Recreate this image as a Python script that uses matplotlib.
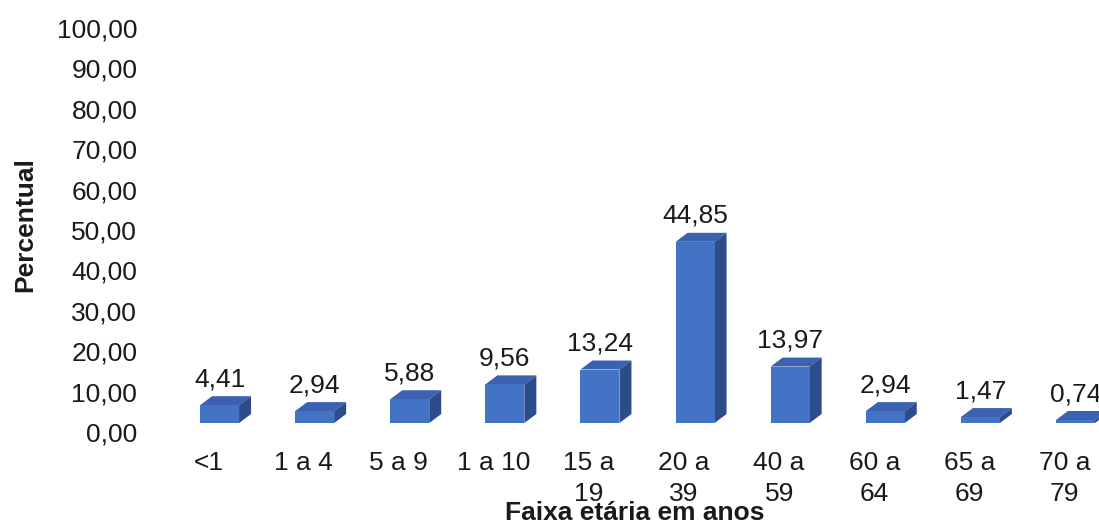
import matplotlib
matplotlib.use("Agg")
import matplotlib.pyplot as plt
from matplotlib.patches import Rectangle, Polygon
from matplotlib.transforms import ScaledTranslation

categories = ["<1", "1 a 4", "5 a 9", "1 a 10", "15 a\n19", "20 a\n39",
              "40 a\n59", "60 a\n64", "65 a\n69", "70 a\n79"]
values = [4.41, 2.94, 5.88, 9.56, 13.24, 44.85, 13.97, 2.94, 1.47, 0.74]
value_labels = ["4,41", "2,94", "5,88", "9,56", "13,24", "44,85", "13,97",
                "2,94", "1,47", "0,74"]
yticks = [0, 10, 20, 30, 40, 50, 60, 70, 80, 90, 100]
ytick_labels = ["0,00", "10,00", "20,00", "30,00", "40,00", "50,00",
                "60,00", "70,00", "80,00", "90,00", "100,00"]

FONT = "Liberation Sans"
FS = 19
TXT = "#1a1a1a"
front_c = "#4472C4"
top_c = "#3A62B0"
side_c = "#2D4C8A"

W, H = 1099, 525
fig = plt.figure(figsize=(W / 100, H / 100), dpi=100)
left_px, right_px = 172, 1099
bot_px, top_px = 432, 28
ax = fig.add_axes([left_px / W, (H - bot_px) / H, (right_px - left_px) / W,
                   (bot_px - top_px) / H])
spacing = 95.1
ax.set_xlim(-0.5, -0.5 + (right_px - left_px) / spacing)
ax.set_ylim(0, 100)
for s in ax.spines.values():
    s.set_visible(False)

px_per_y = (bot_px - top_px) / 100.0
bw = 39 / spacing
dx = 12 / spacing
dy = 9 / px_per_y
lift = ax.transData + ScaledTranslation(0, 9 / 100, fig.dpi_scale_trans)

for i, (v, lab) in enumerate(zip(values, value_labels)):
    x0, x1 = i - bw / 2, i + bw / 2
    ax.add_patch(Polygon([(x0, v), (x1, v), (x1 + dx, v + dy), (x0 + dx, v + dy)],
                         closed=True, facecolor=top_c, edgecolor="none",
                         transform=lift))
    ax.add_patch(Polygon([(x1, 0), (x1 + dx, dy), (x1 + dx, v + dy), (x1, v)],
                         closed=True, facecolor=side_c, edgecolor="none",
                         transform=lift))
    ax.add_patch(Rectangle((x0, 0), bw, v, facecolor=front_c, edgecolor="none",
                           transform=lift))
    ax.annotate(lab, xy=(i, v), xycoords=lift, xytext=(0, 10),
                textcoords="offset points", ha="center", va="bottom",
                fontsize=FS, family=FONT, color=TXT)

ax.set_yticks(yticks)
ax.set_yticklabels(ytick_labels, fontsize=FS, family=FONT, color=TXT)
ax.set_xticks(range(len(categories)))
ax.set_xticklabels(categories, fontsize=FS, family=FONT, color=TXT,
                   linespacing=1.38)
ax.tick_params(axis="both", length=0)
ax.tick_params(axis="y", pad=25)
ax.tick_params(axis="x", pad=13.5)
shift = ScaledTranslation(-11 / 100, 0, fig.dpi_scale_trans)
for t in ax.get_xticklabels():
    t.set_transform(t.get_transform() + shift)

fig.text(25 / W, 1 - 225 / H, "Percentual", rotation=90, ha="center",
         va="center", fontsize=FS, family=FONT, fontweight="bold", color=TXT)
fig.text(635 / W, 1 - 513 / H, "Faixa etária em anos", ha="center",
         va="center", fontsize=FS, family=FONT, fontweight="bold", color=TXT)

fig.savefig("out.png", dpi=100)
